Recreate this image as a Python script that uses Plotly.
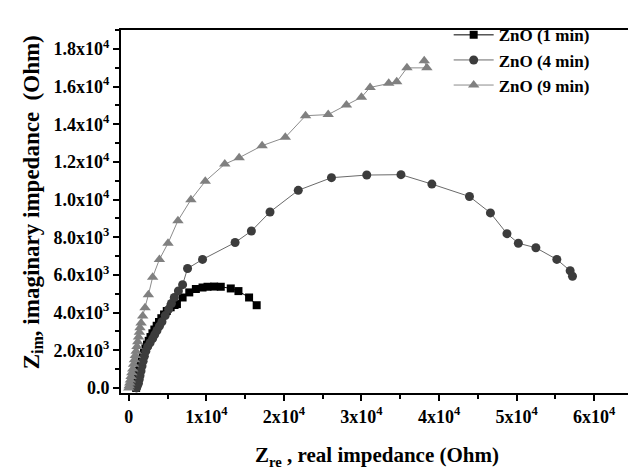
import plotly.graph_objects as go

# ZnO (1 min)
x1 = [950, 1000, 1050, 1120, 1200, 1300, 1400, 1520, 1650, 1800, 1970, 2150, 2350, 2570,
      2800, 3050, 3300, 3600, 3900, 4200, 4550, 4900, 5400, 5900, 6210, 6940, 7800, 8650,
      9510, 10150, 11010, 11860, 13150, 14140, 15510, 16490]
y1 = [0, 150, 300, 500, 700, 900, 1100, 1300, 1500, 1700, 1900, 2100, 2300, 2500,
      2700, 2900, 3100, 3300, 3500, 3700, 3900, 4080, 4280, 4400, 4450, 4800, 5070, 5250,
      5330, 5370, 5380, 5370, 5280, 5140, 4800, 4390]

# ZnO (4 min)
x4 = [1000, 1100, 1250, 1350, 1450, 1580, 1710, 1850, 2010, 2200, 2440, 2750, 3080, 3350,
      3640, 3950, 4280, 4700, 5140, 5500, 5870, 6400, 6940, 7580, 9510, 13710, 15810, 18210,
      21850, 26130, 30680, 35090, 39070, 43920, 46620, 48750, 50220, 52480, 55180, 56900, 57200]
y4 = [0, 100, 250, 450, 650, 900, 1160, 1420, 1680, 1950, 2190, 2400, 2620, 2830,
      3050, 3280, 3510, 3840, 4170, 4480, 4800, 5150, 5480, 6340, 6820, 7720, 8330, 9340,
      10490, 11160, 11300, 11320, 10820, 10160, 9290, 8190, 7680, 7440, 6820, 6220, 5930]

# ZnO (9 min)
x9 = [0, 60, 130, 210, 300, 400, 510, 620, 730, 840, 950, 1060, 1160, 1260, 1370, 1450,
      1590, 1800, 2100, 2530, 3080, 3950, 5060, 6340, 8010, 9860, 12380, 14230, 17190,
      20180, 22790, 25710, 28060, 29990, 31110, 33510, 34540, 35860, 38430, 38090]
y9 = [0, 120, 260, 420, 600, 800, 1000, 1250, 1500, 1720, 1950, 2200, 2450, 2700, 2960, 3200,
      3450, 3820, 4250, 4940, 5880, 6820, 7680, 8880, 9990, 10970, 11880, 12220, 12860,
      13300, 14450, 14510, 15020, 15430, 15950, 16170, 16250, 16990, 16990, 17370]

x_tickvals = [0, 10000, 20000, 30000, 40000, 50000, 60000]
x_ticktext = ["<b>0</b>", "<b>1x10<sup>4</sup></b>", "<b>2x10<sup>4</sup></b>",
              "<b>3x10<sup>4</sup></b>", "<b>4x10<sup>4</sup></b>",
              "<b>5x10<sup>4</sup></b>", "<b>6x10<sup>4</sup></b>"]
y_tickvals = [0, 2000, 4000, 6000, 8000, 10000, 12000, 14000, 16000, 18000]
y_ticktext = ["<b>0.0</b>", "<b>2.0x10<sup>3</sup></b>", "<b>4.0x10<sup>3</sup></b>",
              "<b>6.0x10<sup>3</sup></b>", "<b>8.0x10<sup>3</sup></b>",
              "<b>1.0x10<sup>4</sup></b>", "<b>1.2x10<sup>4</sup></b>",
              "<b>1.4x10<sup>4</sup></b>", "<b>1.6x10<sup>4</sup></b>",
              "<b>1.8x10<sup>4</sup></b>"]
x_title = "<b>Z<sub>re</sub> , real impedance (Ohm)</b>"
y_title = "<b>Z<sub>im</sub>, imaginary impedance  (Ohm)</b>"

FONT = "'Liberation Serif', 'Times New Roman', serif"

fig = go.Figure()
fig.add_trace(go.Scatter(x=x1, y=y1, mode="lines+markers", name="<b>ZnO (1 min)</b>",
                         line=dict(color="#000000", width=1),
                         marker=dict(symbol="square", size=8, color="#000000")))
fig.add_trace(go.Scatter(x=x4, y=y4, mode="lines+markers", name="<b>ZnO (4 min)</b>",
                         line=dict(color="#6a6a6a", width=1),
                         marker=dict(symbol="circle", size=9, color="#3c3c3c")))
fig.add_trace(go.Scatter(x=x9, y=y9, mode="lines+markers", name="<b>ZnO (9 min)</b>",
                         line=dict(color="#8c8c8c", width=1),
                         marker=dict(symbol="triangle-up", size=10, color="#808080")))

fig.update_layout(
    width=636, height=474,
    margin=dict(l=113, r=9, t=10, b=89),
    paper_bgcolor="white", plot_bgcolor="white",
    font=dict(family=FONT, color="black"),
    showlegend=True,
    legend=dict(x=0.64, y=1.035, xanchor="left", yanchor="top",
                bgcolor="rgba(0,0,0,0)", borderwidth=0,
                font=dict(family=FONT, size=17, color="black"),
                tracegroupgap=0, itemwidth=40),
    annotations=[dict(text=y_title, xref="paper", yref="paper",
                      x=-0.172, y=0.525, xanchor="center", yanchor="middle",
                      textangle=-90, showarrow=False,
                      font=dict(family=FONT, size=23, color="black"))],
)
fig.update_xaxes(
    range=[-1000, 65000], showgrid=False, zeroline=False,
    showline=True, linecolor="black", linewidth=2, mirror=True,
    ticks="outside", ticklen=6, tickwidth=2, tickcolor="black",
    tickmode="array", tickvals=x_tickvals, ticktext=x_ticktext,
    tickfont=dict(family=FONT, size=18, color="black"),
    minor=dict(ticks="outside", ticklen=4, tickwidth=2, tickcolor="black",
               tickmode="linear", tick0=0, dtick=5000, showgrid=False),
    title=dict(text=x_title, standoff=22,
               font=dict(family=FONT, size=21, color="black")),
)
fig.update_yaxes(
    range=[-270, 19000], showgrid=False, zeroline=False,
    showline=True, linecolor="black", linewidth=2, mirror=True,
    ticks="outside", ticklen=6, tickwidth=2, tickcolor="black",
    tickmode="array", tickvals=y_tickvals, ticktext=y_ticktext,
    tickfont=dict(family=FONT, size=18, color="black"),
    minor=dict(ticks="outside", ticklen=4, tickwidth=2, tickcolor="black",
               tickmode="linear", tick0=0, dtick=1000, showgrid=False),
)

fig.write_html("out.html")
